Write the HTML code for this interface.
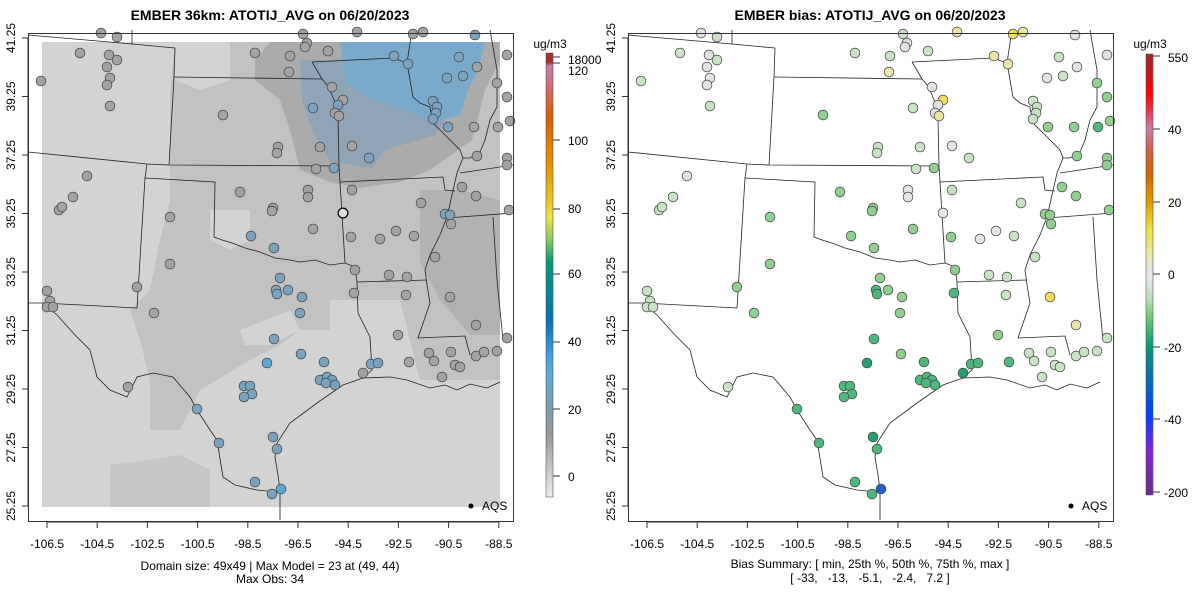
<!DOCTYPE html>
<html><head><meta charset="utf-8"><style>
html,body{margin:0;padding:0;background:#fff;}
svg{display:block;font-family:"Liberation Sans",Arial,sans-serif;}
.pre{white-space:pre;}
</style></head><body>
<svg id="s" width="1200" height="600" viewBox="0 0 1200 600" xmlns="http://www.w3.org/2000/svg">
<defs>
<linearGradient id="cb1" x1="0" y1="0" x2="0" y2="1">
<stop offset="0" stop-color="#a52a2a"/><stop offset="0.02" stop-color="#a52a2a"/>
<stop offset="0.03" stop-color="#cc79a7"/><stop offset="0.08" stop-color="#d06c6c"/>
<stop offset="0.14" stop-color="#d55e00"/><stop offset="0.2" stop-color="#e07a00"/>
<stop offset="0.27" stop-color="#e69f00"/><stop offset="0.33" stop-color="#f0c020"/>
<stop offset="0.37" stop-color="#f0e442"/><stop offset="0.42" stop-color="#8cc860"/>
<stop offset="0.47" stop-color="#009e73"/><stop offset="0.53" stop-color="#008a98"/>
<stop offset="0.6" stop-color="#0072b2"/><stop offset="0.68" stop-color="#40a0e0"/>
<stop offset="0.73" stop-color="#60aad8"/><stop offset="0.8" stop-color="#7a9cb0"/>
<stop offset="0.86" stop-color="#999999"/><stop offset="0.93" stop-color="#c4c4c4"/>
<stop offset="1" stop-color="#ececec"/>
</linearGradient>
<linearGradient id="cb2" x1="0" y1="0" x2="0" y2="1">
<stop offset="0" stop-color="#9c2828"/><stop offset="0.09" stop-color="#ff0000"/>
<stop offset="0.13" stop-color="#e83850"/><stop offset="0.17" stop-color="#cc79a7"/>
<stop offset="0.22" stop-color="#d06040"/><stop offset="0.27" stop-color="#d55e00"/>
<stop offset="0.34" stop-color="#e69f00"/><stop offset="0.4" stop-color="#f0e442"/>
<stop offset="0.46" stop-color="#ebe6b0"/><stop offset="0.49" stop-color="#e6e6e6"/>
<stop offset="0.51" stop-color="#e6e6e6"/><stop offset="0.55" stop-color="#c0e0c0"/>
<stop offset="0.6" stop-color="#6cc870"/><stop offset="0.66" stop-color="#009e73"/>
<stop offset="0.73" stop-color="#0072b2"/><stop offset="0.82" stop-color="#0040ff"/>
<stop offset="0.9" stop-color="#8a20e0"/><stop offset="1" stop-color="#6a2a8a"/>
</linearGradient>
<g id="borders" fill="none" stroke="#222" stroke-width="0.8">
<polyline points="28,35 132,44 175,48"/>
<polyline points="132,30 132,44"/>
<polyline points="175,48 174,77 169,165"/>
<polyline points="174,77 322,79"/>
<polyline points="312,62 393,58 407,63"/>
<polyline points="312,62 318,72 322,79 328,86 332,95 336,105 338,118 339,166 345,263"/>
<polyline points="28,152 147,164 169,165 339,166"/>
<polyline points="147,164 145,178 137,308"/>
<polyline points="145,178 215,182 214,237 222,240 232,243 245,248 260,252 275,258 290,260 300,262 315,260 330,265 345,263 355,267 357,282"/>
<polyline points="340,182 443,177 445,190 455,191"/>
<polyline points="412,30 407,63 413,97 420,103 430,107 433,123 445,135 460,150 463,158 457,173 452,195 447,217 440,235 430,255 425,270 427,285 430,303 418,338 465,336 470,355"/>
<polyline points="490,30 497,70 497,107 490,120 485,140 480,152 470,158 463,158"/>
<polyline points="460,173 513,165"/>
<polyline points="447,218 513,213"/>
<polyline points="493,217 497,280 503,340"/>
<polyline points="357,282 427,280"/>
<polyline points="357,282 358,313 370,337 372,370 363,378"/>
<polyline points="363,378 343,385 317,403 290,423 277,443 275,457 278,475 280,490 280,520"/>
<polyline points="363,378 390,377 407,380 430,388 445,385 457,390 470,384 487,388 500,382"/>
<polyline points="28,303 43,303 57,315 75,335 90,350 97,377 110,390 127,397 137,377 153,373 173,377 190,397 197,410 210,430 217,440 223,477 235,485 257,490 277,492"/>
<polyline points="43,303 137,308"/>
</g>
</defs>

<text x="270" y="20" font-size="14" font-weight="bold" text-anchor="middle">EMBER 36km: ATOTIJ_AVG on 06/20/2023</text>
<text x="870" y="20" font-size="14" font-weight="bold" text-anchor="middle">EMBER bias: ATOTIJ_AVG on 06/20/2023</text>

<g id="raster" shape-rendering="crispEdges">
<rect x="42" y="42" width="458" height="465" fill="#d3d3d3"/>
<polygon fill="#c2c2c2" points="175,42 500,42 500,380 420,380 400,300 330,300 330,330 300,330 280,345 250,360 200,390 180,430 150,430 150,380 140,340 130,310 150,290 160,240 170,200 170,90"/>
<polygon fill="#d3d3d3" points="210,210 250,210 250,240 230,250 210,240"/>
<polygon fill="#d3d3d3" points="240,330 290,310 300,330 270,345 245,345"/>
<polygon fill="#d3d3d3" points="175,42 230,42 230,80 200,90 175,80"/>
<polygon fill="#ababab" points="270,42 500,42 500,60 485,90 472,140 430,170 400,182 360,188 330,182 300,170 290,130 280,100 255,80 255,60"/>
<polygon fill="#8fa5b5" points="300,60 345,60 400,100 445,120 435,135 385,150 372,168 330,162 312,130 302,100"/>
<polygon fill="#7aaacb" points="340,42 485,42 478,70 468,90 460,115 432,122 400,108 370,98 346,82"/>
<polygon fill="#b2b2b2" points="420,190 462,190 500,200 500,335 470,335 440,300 420,262 420,222"/>
<polygon fill="#c6c6c6" points="110,465 150,460 180,455 210,470 210,507 110,507"/>
</g>

<use href="#borders"/>
<use href="#borders" x="600"/>

<g id="pts" stroke="#444" stroke-width="0.7"></g>

<g fill="none" stroke="#333" stroke-width="1">
<rect x="28.5" y="33.5" width="485" height="488"/>
<rect x="628.5" y="33.5" width="485" height="488"/>
</g>
<g id="axes" stroke="#333" stroke-width="1" font-size="12" fill="#000"></g>

<circle cx="471" cy="506" r="2.5" fill="#000"/><text x="482" y="510" font-size="12">AQS</text>
<circle cx="1071" cy="506" r="2.5" fill="#000"/><text x="1082" y="510" font-size="12">AQS</text>

<text x="270" y="570" font-size="12" text-anchor="middle">Domain size: 49x49 | Max Model = 23 at (49, 44)</text>
<text x="270" y="583" font-size="12" text-anchor="middle">Max Obs: 34</text>
<text x="870" y="568" font-size="12" text-anchor="middle" class="pre">Bias Summary: [ min, 25th %, 50th %, 75th %, max ]</text>
<text x="870" y="582" font-size="12" text-anchor="middle" class="pre">[ -33,   -13,   -5.1,   -2.4,   7.2 ]</text>

<text x="550" y="48" font-size="12" text-anchor="middle">ug/m3</text>
<rect x="546" y="53" width="7" height="444" fill="url(#cb1)" stroke="#555" stroke-width="0.6"/>
<g font-size="12">
<g stroke="#333"><line x1="553" y1="57" x2="560" y2="57"/><line x1="553" y1="63" x2="560" y2="63"/><line x1="553" y1="140" x2="560" y2="140"/><line x1="553" y1="209" x2="560" y2="209"/><line x1="553" y1="274" x2="560" y2="274"/><line x1="553" y1="342" x2="560" y2="342"/><line x1="553" y1="409" x2="560" y2="409"/><line x1="553" y1="476" x2="560" y2="476"/></g>
<text x="568" y="64">18000</text><text x="568" y="75">120</text><text x="568" y="145">100</text><text x="568" y="213">80</text><text x="568" y="278">60</text><text x="568" y="346">40</text><text x="568" y="414">20</text><text x="568" y="481">0</text>
</g>
<text x="1150" y="48" font-size="12" text-anchor="middle">ug/m3</text>
<rect x="1146" y="54" width="7" height="441" fill="url(#cb2)" stroke="#555" stroke-width="0.6"/>
<g font-size="12">
<g stroke="#333"><line x1="1153" y1="56" x2="1160" y2="56"/><line x1="1153" y1="129" x2="1160" y2="129"/><line x1="1153" y1="202" x2="1160" y2="202"/><line x1="1153" y1="274" x2="1160" y2="274"/><line x1="1153" y1="347" x2="1160" y2="347"/><line x1="1153" y1="419" x2="1160" y2="419"/><line x1="1153" y1="492" x2="1160" y2="492"/></g>
<text x="1168" y="62">550</text><text x="1168" y="134">40</text><text x="1168" y="207">20</text><text x="1168" y="279">0</text><text x="1164" y="352">-20</text><text x="1164" y="424">-40</text><text x="1164" y="497">-200</text>
</g>
</svg>
<script>
(function(){
var NS="http://www.w3.org/2000/svg";
var L={g:"#a3a3a3",b:"#7aa3bf",B:"#5ea6d6",o:"#dcdcdc"};
var R={p:"#c8e2c4",w:"#e2e2e2",m:"#8fd08f",G:"#4cb87c",D:"#22a070",y:"#ece3a8",Y:"#f2dc5a",L:"#1e5fd6"};
var P=[
[101,33,"g","w"],[117,37,"g","p"],[303,34,"g","p"],[357,32,"g","y"],[413,34,"g","Y"],[423,32,"g","y"],[475,35,"b","w"],[307,43,"g","w"],[305,47,"g","w"],
[80,53,"g","p"],[109,55,"g","w"],[117,60,"g","p"],[107,67,"g","w"],[110,78,"g","w"],[107,85,"g","w"],[41,81,"g","p"],[110,106,"g","p"],
[255,53,"g","p"],[290,56,"g","p"],[289,72,"g","y"],[328,51,"g","p"],[394,56,"b","y"],[408,64,"b","y"],[459,57,"b","p"],[447,78,"b","w"],[463,76,"b","p"],[477,67,"g","w"],
[332,87,"g","w"],[343,100,"g","Y"],[338,105,"b","w"],[335,113,"g","w"],[339,116,"g","y"],[313,108,"b","p"],[223,115,"g","m"],
[433,101,"b","p"],[437,107,"b","p"],[436,113,"b","p"],[433,119,"b","p"],[448,127,"b","m"],[474,127,"g","m"],[497,83,"g","m"],[507,55,"g","w"],[507,97,"g","m"],[510,121,"g","m"],[498,127,"g","G"],
[278,147,"g","p"],[277,153,"g","p"],[320,147,"g","p"],[352,146,"g","w"],[369,158,"b","p"],[334,168,"b","m"],[316,169,"g","p"],[477,156,"g","m"],[507,158,"g","m"],[507,165,"g","m"],
[87,176,"g","w"],[73,197,"g","p"],[59,210,"g","p"],[62,207,"g","p"],[240,192,"g","m"],[273,208,"g","m"],[272,211,"g","m"],[308,190,"g","w"],[308,197,"g","w"],[352,190,"g","p"],[343,213,"o","w"],
[462,187,"g","m"],[476,196,"g","m"],[421,203,"g","p"],[445,214,"b","m"],[450,215,"b","m"],[451,224,"g","m"],[509,210,"g","m"],
[170,217,"g","m"],[251,236,"b","m"],[274,248,"b","m"],[313,229,"g","m"],[351,237,"g","m"],[380,239,"g","w"],[396,231,"g","w"],[414,236,"g","p"],[435,257,"g","p"],[170,264,"g","m"],[355,270,"g","m"],[389,275,"g","p"],[407,277,"g","p"],
[280,278,"b","m"],[276,290,"b","G"],[277,294,"b","G"],[288,290,"b","m"],[302,297,"b","m"],[300,313,"b","m"],[354,293,"g","G"],[137,287,"g","m"],
[47,291,"g","p"],[50,301,"g","p"],[47,307,"g","p"],[53,307,"g","p"],[154,313,"g","m"],
[406,295,"g","p"],[450,297,"g","Y"],[398,335,"g","m"],[476,325,"g","y"],[274,339,"b","G"],[267,363,"B","D"],[301,354,"b","m"],[324,362,"b","G"],
[429,353,"g","p"],[434,361,"g","p"],[409,362,"g","G"],[451,352,"g","p"],[476,356,"g","p"],[484,352,"g","p"],[497,351,"g","p"],[507,338,"g","p"],[455,365,"g","p"],[460,367,"g","p"],[442,377,"g","p"],
[320,380,"b","G"],[327,377,"b","G"],[332,380,"b","G"],[335,385,"b","G"],[326,383,"b","G"],[371,364,"b","G"],[378,363,"b","G"],[363,373,"g","D"],
[244,386,"b","G"],[250,386,"b","G"],[252,394,"b","G"],[244,397,"b","G"],[128,387,"g","p"],[197,409,"b","G"],[219,443,"b","G"],
[273,437,"b","D"],[277,449,"b","G"],[255,482,"b","G"],[272,494,"b","G"],[281,489,"B","L"]
];
var g=document.getElementById("pts");
function c(x,y,f){var e=document.createElementNS(NS,"circle");e.setAttribute("cx",x);e.setAttribute("cy",y);e.setAttribute("r",4.9);e.setAttribute("fill",f);if(f==L.o){e.setAttribute("stroke","#000");e.setAttribute("stroke-width","1.2");}g.appendChild(e);}
P.forEach(function(p){c(p[0],p[1],L[p[2]]);});
P.forEach(function(p){c(p[0]+600,p[1],p[2]=="o"?"#e6e6e6":R[p[3]]);});
var a=document.getElementById("axes");
function ln(x1,y1,x2,y2){var e=document.createElementNS(NS,"line");e.setAttribute("x1",x1);e.setAttribute("y1",y1);e.setAttribute("x2",x2);e.setAttribute("y2",y2);a.appendChild(e);}
function tx(x,y,s,rot){var e=document.createElementNS(NS,"text");e.setAttribute("x",x);e.setAttribute("y",y);e.setAttribute("text-anchor","middle");e.setAttribute("stroke","none");if(rot)e.setAttribute("transform","rotate(-90 "+x+" "+y+")");e.textContent=s;a.appendChild(e);}
[0,600].forEach(function(o){
 var lons=["-106.5","-104.5","-102.5","-100.5","-98.5","-96.5","-94.5","-92.5","-90.5","-88.5"];
 ln(o+47,522,o+499,522);
 lons.forEach(function(s,i){var x=o+47+i*50.2;ln(x,522,x,528);tx(x,548,s);});
 var lats=["41.25","39.25","37.25","35.25","33.25","31.25","29.25","27.25","25.25"];
 ln(o+28,38,o+28,506);
 lats.forEach(function(s,i){var y=38+i*58.5;ln(o+22,y,o+28,y);tx(o+15,y,s,true);});
});
})();
</script>
</body></html>
